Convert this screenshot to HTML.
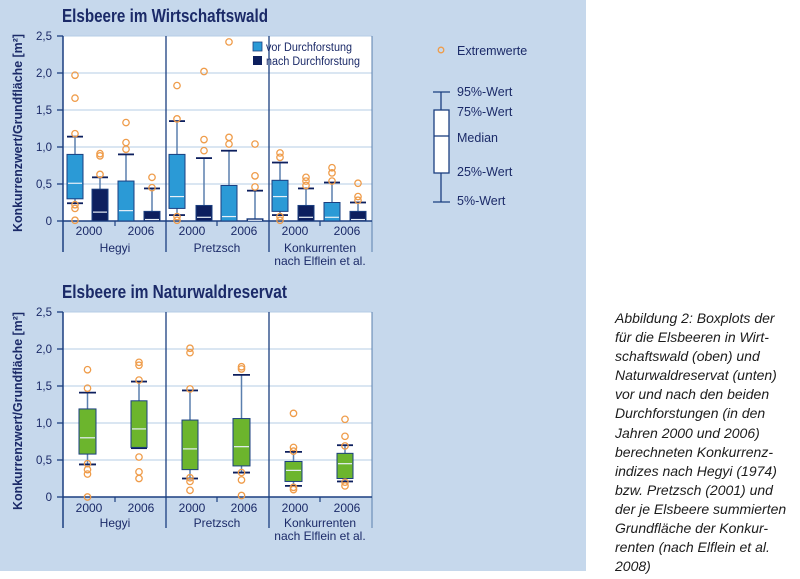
<!DOCTYPE html>
<html><head><meta charset="utf-8">
<style>
html,body{margin:0;padding:0;background:#fff;}
body{width:800px;height:579px;position:relative;overflow:hidden;font-family:"Liberation Sans",sans-serif;}
.cap{position:absolute;left:615px;top:309px;font-style:italic;font-size:14px;line-height:19.1px;color:#1c1c1c;}
</style></head><body>
<svg id="s" width="800" height="579" xmlns="http://www.w3.org/2000/svg" style="position:absolute;left:0;top:0;font-family:'Liberation Sans',sans-serif;">
<rect x="0" y="0" width="586" height="571" fill="#c6d8ec"/>
<text x="62" y="22" font-size="18" font-weight="bold" fill="#1b2a68" textLength="206" lengthAdjust="spacingAndGlyphs">Elsbeere im Wirtschaftswald</text>
<text x="62" y="298" font-size="18" font-weight="bold" fill="#1b2a68" textLength="225" lengthAdjust="spacingAndGlyphs">Elsbeere im Naturwaldreservat</text>
<g id="c1"></g><g id="c2"></g>
<g font-size="12" fill="#1b2a68" text-anchor="middle">
<text x="89" y="235">2000</text><text x="141" y="235">2006</text>
<text x="192" y="235">2000</text><text x="244" y="235">2006</text>
<text x="295" y="235">2000</text><text x="347" y="235">2006</text>
<text x="115" y="252">Hegyi</text><text x="217" y="252">Pretzsch</text>
<text x="320" y="252">Konkurrenten</text><text x="320" y="265">nach Elflein et al.</text>
<text x="89" y="512">2000</text><text x="141" y="512">2006</text>
<text x="192" y="512">2000</text><text x="244" y="512">2006</text>
<text x="295" y="512">2000</text><text x="347" y="512">2006</text>
<text x="115" y="527">Hegyi</text><text x="217" y="527">Pretzsch</text>
<text x="320" y="527">Konkurrenten</text><text x="320" y="540">nach Elflein et al.</text>
</g>
<g font-size="11.5" fill="#1b2a68" text-anchor="end">
<text x="52" y="40">2,5</text><text x="52" y="77">2,0</text><text x="52" y="114">1,5</text><text x="52" y="151">1,0</text><text x="52" y="188">0,5</text><text x="52" y="225">0</text>
<text x="52" y="316">2,5</text><text x="52" y="353">2,0</text><text x="52" y="390">1,5</text><text x="52" y="427">1,0</text><text x="52" y="464">0,5</text><text x="52" y="501">0</text>
</g>
<text transform="translate(22,133) rotate(-90)" font-size="12.5" font-weight="bold" fill="#1b2a68" text-anchor="middle" textLength="198" lengthAdjust="spacingAndGlyphs">Konkurrenzwert/Grundfläche [m²]</text>
<text transform="translate(22,411) rotate(-90)" font-size="12.5" font-weight="bold" fill="#1b2a68" text-anchor="middle" textLength="198" lengthAdjust="spacingAndGlyphs">Konkurrenzwert/Grundfläche [m²]</text>
<rect x="253" y="42" width="9" height="9" fill="#2b9ad6" stroke="#1b3f80" stroke-width="0.8"/>
<text x="266" y="51" font-size="11.5" fill="#1b2a68" textLength="86" lengthAdjust="spacingAndGlyphs">vor Durchforstung</text>
<rect x="253" y="56" width="9" height="9" fill="#0d1f5e"/>
<text x="266" y="65" font-size="11.5" fill="#1b2a68" textLength="94" lengthAdjust="spacingAndGlyphs">nach Durchforstung</text>
<circle cx="441" cy="50" r="2.8" fill="none" stroke="#ef9c4a" stroke-width="1.3"/>
<g font-size="12.5" fill="#1b2a68">
<text x="457" y="55">Extremwerte</text>
<text x="457" y="96">95%-Wert</text>
<text x="457" y="116">75%-Wert</text>
<text x="457" y="142">Median</text>
<text x="457" y="176">25%-Wert</text>
<text x="457" y="205">5%-Wert</text>
</g>
<g stroke="#1b3f80" stroke-width="1.3" fill="none">
<line x1="433" y1="92" x2="450" y2="92"/><line x1="441" y1="92" x2="441" y2="110"/>
<rect x="434" y="110" width="15" height="63" fill="#fff"/>
<line x1="434" y1="136" x2="449" y2="136"/>
<line x1="441" y1="173" x2="441" y2="202"/><line x1="433" y1="202" x2="450" y2="202"/>
</g>
</svg>
<div class="cap">Abbildung 2: Boxplots der<br>für die Elsbeeren in Wirt-<br>schaftswald (oben) und<br>Naturwaldreservat (unten)<br>vor und nach den beiden<br>Durchforstungen (in den<br>Jahren 2000 und 2006)<br>berechneten Konkurrenz-<br>indizes nach Hegyi (1974)<br>bzw. Pretzsch (2001) und<br>der je Elsbeere summierten<br>Grundfläche der Konkur-<br>renten (nach Elflein et al.<br>2008)</div>
<script>
var NS="http://www.w3.org/2000/svg";
function el(g,t,a){var e=document.createElementNS(NS,t);for(var k in a)e.setAttribute(k,a[k]);g.appendChild(e);return e;}
function chart(gid,top,boxes){
 var g=document.getElementById(gid), y0=top+185, s=74;
 el(g,"rect",{x:63,y:top,width:309,height:185,fill:"#fff"});
 for(var i=1;i<=5;i++){var y=y0-i*0.5*s;el(g,"line",{x1:63,x2:372,y1:y,y2:y,stroke:"#b5cde6","stroke-width":1});}
 for(var i=0;i<=5;i++){var y=y0-i*0.5*s;el(g,"line",{x1:57,x2:63,y1:y,y2:y,stroke:"#1b3f80","stroke-width":1.3});}
 el(g,"line",{x1:63,x2:63,y1:top,y2:y0+31,stroke:"#1b3f80","stroke-width":1.5});
 el(g,"line",{x1:372,x2:372,y1:top,y2:y0+31,stroke:"#5a7fae","stroke-width":1});
 el(g,"line",{x1:166,x2:166,y1:top,y2:y0+31,stroke:"#1b3f80","stroke-width":1.3});
 el(g,"line",{x1:269,x2:269,y1:top,y2:y0+31,stroke:"#1b3f80","stroke-width":1.3});
 el(g,"line",{x1:63,x2:372,y1:y0,y2:y0,stroke:"#1b3f80","stroke-width":1.5});
 [115,217,320].forEach(function(x){el(g,"line",{x1:x,x2:x,y1:y0,y2:y0+5,stroke:"#1b3f80","stroke-width":1.2});});
 boxes.forEach(function(b){
  var x=b[0],w=b[1],c=b[2],q1=b[3],q3=b[4],md=b[5],lo=b[6],hi=b[7],out=b[8],cx=x+w/2;
  var Y=function(v){return y0-v*s;};
  el(g,"line",{x1:cx,x2:cx,y1:Y(hi),y2:Y(q3),stroke:"#5a7fae","stroke-width":1.5});
  if(lo<q1)el(g,"line",{x1:cx,x2:cx,y1:Y(q1),y2:Y(lo),stroke:"#5a7fae","stroke-width":1.5});
  el(g,"line",{x1:x,x2:x+w,y1:Y(hi),y2:Y(hi),stroke:"#0d1f5e","stroke-width":1.8});
  if(lo<q1)el(g,"line",{x1:x,x2:x+w,y1:Y(lo),y2:Y(lo),stroke:"#0d1f5e","stroke-width":1.8});
  el(g,"rect",{x:x,y:Y(q3),width:w,height:Math.max(1,(q3-q1)*s),fill:c,stroke:"#1b3f80","stroke-width":1});
  el(g,"line",{x1:x+1,x2:x+w-1,y1:Y(md),y2:Y(md),stroke:"#e8f0f8","stroke-width":1.2});
  out.forEach(function(v){el(g,"circle",{cx:cx,cy:Y(v),r:3.2,fill:"none",stroke:"#ef9c4a","stroke-width":1.3});});
 });
}
var B="#2b9ad6",D="#0d1f5e",G="#6cb52d";
chart("c1",36,[
 [67,16,B,0.30,0.90,0.51,0.24,1.14,[1.97,1.66,1.18,0.22,0.17,0.01]],
 [92,16,D,0,0.43,0.12,0,0.59,[0.91,0.88,0.63]],
 [118,16,B,0,0.54,0.14,0,0.90,[1.33,1.06,0.97]],
 [144,16,D,0,0.13,0.02,0,0.44,[0.59,0.45]],
 [169,16,B,0.17,0.90,0.33,0.08,1.35,[1.83,1.38,0.06,0.01]],
 [196,16,D,0,0.21,0.05,0,0.85,[2.02,1.10,0.95]],
 [221,16,B,0,0.48,0.06,0,0.95,[2.42,1.13,1.04]],
 [247,16,D,0,0.03,0.01,0,0.41,[1.04,0.61,0.46]],
 [272,16,B,0.13,0.55,0.33,0.08,0.79,[0.92,0.86,0.06,0.01]],
 [298,16,D,0,0.21,0.05,0,0.44,[0.59,0.54,0.48]],
 [324,16,B,0,0.25,0.05,0,0.52,[0.72,0.65,0.54]],
 [350,16,D,0,0.13,0.02,0,0.25,[0.51,0.33,0.28]]
]);
chart("c2",312,[
 [79,17,G,0.58,1.19,0.80,0.44,1.41,[1.72,1.47,0.45,0.37,0.31,0.0]],
 [131,16,G,0.67,1.30,0.92,0.66,1.56,[1.82,1.78,1.58,0.54,0.34,0.25]],
 [182,16,G,0.37,1.04,0.65,0.25,1.44,[2.01,1.95,1.46,0.26,0.21,0.09]],
 [233,17,G,0.42,1.06,0.68,0.33,1.65,[1.76,1.73,0.33,0.23,0.02]],
 [285,17,G,0.21,0.48,0.36,0.15,0.61,[1.13,0.67,0.62,0.13,0.10]],
 [337,16,G,0.25,0.59,0.45,0.21,0.70,[1.05,0.82,0.69,0.20,0.15]]
]);
</script>
</body></html>
